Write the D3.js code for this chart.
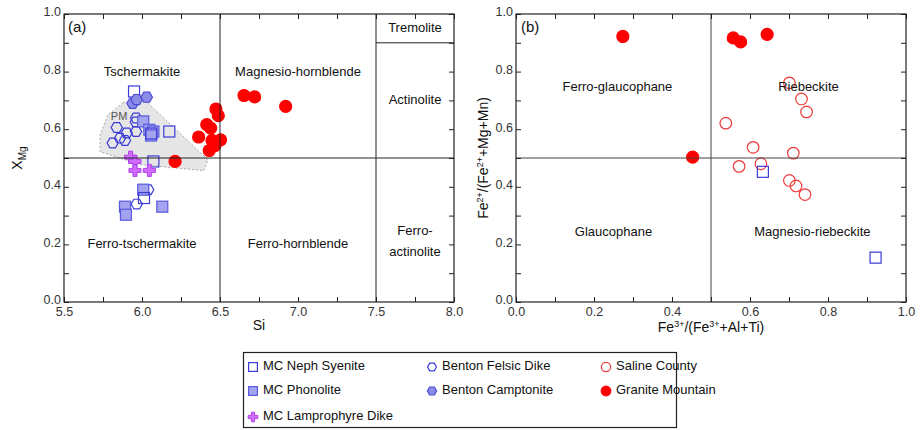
<!DOCTYPE html>
<html>
<head>
<meta charset="utf-8">
<script src="https://cdn.jsdelivr.net/npm/d3@7"></script>
<style>
  body { margin: 0; background: #fff; }
  svg { display: block; font-family: "Liberation Sans", Arial, sans-serif; }
</style>
</head>
<body>
<svg id="chart" width="920" height="430"></svg>
<script>
// ---- Panel (a): Si vs XMg (calcic amphibole classification) ----
const mcNephSyeniteA = [[5.949,0.731],[6.175,0.592],[6.073,0.488],[6.013,0.361],[6.06,0.585]];
const mcPhonoliteA = [[6.008,0.627],[6.047,0.598],[6.073,0.592],[6.058,0.578],[6.008,0.390],[5.891,0.331],[5.897,0.303],[6.130,0.331]];
const mcLamprophyreA = [[5.927,0.503],[5.955,0.488],[5.955,0.457],[6.047,0.457]];
const bentonFelsicA = [[5.962,0.639],[5.838,0.606],[5.902,0.587],[5.962,0.592],[5.859,0.569],[5.891,0.561],[5.812,0.552],[5.96,0.625],[6.04,0.390],[5.966,0.340]];
const bentonCamptoniteA = [[5.94,0.690],[5.966,0.703],[6.03,0.711]];
const graniteMountainA = [[6.654,0.717],[6.722,0.712],[6.921,0.679],[6.474,0.670],[6.489,0.647],[6.415,0.616],[6.440,0.604],[6.363,0.573],[6.449,0.561],[6.504,0.563],[6.468,0.543],[6.431,0.526],[6.212,0.488]];
// outline of the shaded PM field
const pmField = [[5.878,0.692],[6.0,0.710],[6.423,0.494],[6.397,0.456],[5.987,0.477],[5.731,0.522],[5.731,0.581],[5.782,0.650]];

// ---- Panel (b): sodic amphibole classification ----
const mcNephSyeniteB = [[0.633,0.452],[0.922,0.154]];
const salineCountyB = [[0.538,0.621],[0.608,0.537],[0.572,0.471],[0.701,0.761],[0.732,0.705],[0.745,0.660],[0.711,0.517],[0.628,0.480],[0.701,0.422],[0.718,0.403],[0.741,0.373]];
const graniteMountainB = [[0.274,0.922],[0.557,0.917],[0.576,0.903],[0.644,0.929],[0.453,0.503]];

// tick values
const siTicks = [5.5,5.75,6.0,6.25,6.5,6.75,7.0,7.25,7.5,7.75,8.0];
const siLabels = [5.5,6.0,6.5,7.0,7.5,8.0];
const fracTicks = [0,0.1,0.2,0.3,0.4,0.5,0.6,0.7,0.8,0.9,1.0];
const fracLabels = [0,0.2,0.4,0.6,0.8,1.0];

const svg = d3.select("#chart");
svg.append("rect").attr("width",920).attr("height",430).attr("fill","#fff");

const plotTop = 14, plotBottom = 302;
const xa = d3.scaleLinear().domain([5.5,8.0]).range([64,454]);
const ya = d3.scaleLinear().domain([0,1]).range([plotBottom,plotTop]);
const xb = d3.scaleLinear().domain([0,1]).range([516,906]);
const yb = ya;

const styles = {
  neph:   {shape:"square", fill:"none", stroke:"#3b3bd9", size:11},
  phon:   {shape:"square", fill:"#a3a3ef", stroke:"#5a5ade", size:11},
  lamp:   {shape:"plus",   fill:"#cf6cff", stroke:"#b040e8", size:12},
  felsic: {shape:"hex",    fill:"none", stroke:"#3b3bd9", size:5.6},
  campt:  {shape:"hex",    fill:"#8c8ce6", stroke:"#4a4ad6", size:5.8},
  saline: {shape:"circle", fill:"none", stroke:"#ee3a3a", size:5.8},
  granite:{shape:"circle", fill:"#ff0000", stroke:"#ff0000", size:6}
};

function hexPath(r) {
  const pts = d3.range(6).map(i => {
    const a = i*Math.PI/3;
    return [r*Math.cos(a), r*Math.sin(a)];
  });
  return "M" + pts.map(p => p.join(",")).join("L") + "Z";
}
function plusPath(s) {
  const h = s/2, t = s/6;
  return `M${-t},${-h}H${t}V${-t}H${h}V${t}H${t}V${h}H${-t}V${t}H${-h}V${-t}H${-t}Z`;
}
function drawMarker(g, cx, cy, st, scale) {
  const k = scale || 1;
  if (st.shape === "circle") {
    g.append("circle").attr("cx",cx).attr("cy",cy).attr("r",st.size*k)
      .attr("fill",st.fill).attr("stroke",st.stroke).attr("stroke-width",1.2);
  } else if (st.shape === "square") {
    const s = st.size*k;
    g.append("rect").attr("x",cx-s/2).attr("y",cy-s/2).attr("width",s).attr("height",s)
      .attr("fill",st.fill).attr("stroke",st.stroke).attr("stroke-width",1.2);
  } else if (st.shape === "hex") {
    g.append("path").attr("d",hexPath(st.size*k)).attr("transform",`translate(${cx},${cy})`)
      .attr("fill",st.fill).attr("stroke",st.stroke).attr("stroke-width",1.2);
  } else if (st.shape === "plus") {
    g.append("path").attr("d",plusPath(st.size*k)).attr("transform",`translate(${cx},${cy})`)
      .attr("fill",st.fill).attr("stroke",st.stroke).attr("stroke-width",1);
  }
}
function drawSeries(g, data, xs, ys, st) {
  data.forEach(d => drawMarker(g, xs(d[0]), ys(d[1]), st));
}

function frameAndAxes(xs, ys, xTicks, xLabels, xFmt) {
  const g = svg.append("g");
  const near = (v, arr) => arr.some(a => Math.abs(a - v) < 1e-9);
  const ax = d3.axisBottom(xs).tickValues(xTicks).tickSize(-5).tickPadding(5)
    .tickFormat(v => near(v, xLabels) ? xFmt(v) : "");
  const axT = d3.axisTop(xs).tickValues(xTicks).tickSize(-5).tickFormat("");
  const ay = d3.axisLeft(ys).tickValues(fracTicks).tickSize(-5).tickPadding(3)
    .tickFormat(v => near(v, fracLabels) ? d3.format(".1f")(v) : "");
  const ayR = d3.axisRight(ys).tickValues(fracTicks).tickSize(-5).tickFormat("");
  const [x0,x1] = xs.range();
  [[ax, `translate(0,${plotBottom})`, null],[axT, `translate(0,${plotTop})`, null],
   [ay, `translate(${x0},0)`, "0.15em"],[ayR, `translate(${x1},0)`, null]]
    .forEach(([a,t,dy]) => {
      const s = g.append("g").attr("transform",t).call(a);
      s.select(".domain").remove();
      s.selectAll("line").attr("stroke","#222");
      s.selectAll("text").attr("font-size",12.5).attr("fill","#333").attr("font-family","Liberation Sans, Arial, sans-serif");
      if (dy) s.selectAll("text").attr("dy", dy);
    });
  g.append("rect").attr("x",x0).attr("y",plotTop).attr("width",x1-x0).attr("height",plotBottom-plotTop)
    .attr("fill","none").attr("stroke","#222").attr("stroke-width",1.2);
  return g;
}
function label(txt, x, y, opts) {
  const o = opts || {};
  return svg.append("text").attr("x",x).attr("y",y).attr("text-anchor",o.anchor || "middle")
    .attr("dominant-baseline","middle").attr("font-size",o.size || 13).attr("fill",o.fill || "#111").text(txt);
}

// ---------- Panel (a) ----------
const ga = svg.append("g");
ga.append("path")
  .attr("d", d3.line().x(d => xa(d[0])).y(d => ya(d[1])).curve(d3.curveLinearClosed)(pmField))
  .attr("fill","#e6e6e6").attr("stroke","#999").attr("stroke-width",0.8).attr("stroke-dasharray","2,2");
ga.append("text").attr("x",xa(5.8)).attr("y",ya(0.643)).attr("font-size",11).attr("fill","#555")
  .attr("dominant-baseline","middle").text("PM");

const boundaryA = svg.append("g").attr("stroke","#222").attr("stroke-width",1);
boundaryA.append("line").attr("x1",xa(6.5)).attr("x2",xa(6.5)).attr("y1",ya(0)).attr("y2",ya(1));
boundaryA.append("line").attr("x1",xa(7.5)).attr("x2",xa(7.5)).attr("y1",ya(0)).attr("y2",ya(1));
boundaryA.append("line").attr("x1",xa(5.5)).attr("x2",xa(8.0)).attr("y1",ya(0.5)).attr("y2",ya(0.5));
boundaryA.append("line").attr("x1",xa(7.5)).attr("x2",xa(8.0)).attr("y1",ya(0.9)).attr("y2",ya(0.9));

frameAndAxes(xa, ya, siTicks, siLabels, d3.format(".1f"));

drawSeries(ga, bentonFelsicA, xa, ya, styles.felsic);
drawSeries(ga, mcPhonoliteA, xa, ya, styles.phon);
drawSeries(ga, mcNephSyeniteA, xa, ya, styles.neph);
drawSeries(ga, bentonCamptoniteA, xa, ya, styles.campt);
drawSeries(ga, mcLamprophyreA, xa, ya, styles.lamp);
drawSeries(ga, graniteMountainA, xa, ya, styles.granite);

label("(a)", 68, 28, {anchor:"start", size:15});
label("Tschermakite", xa(6.0), ya(0.795));
label("Magnesio-hornblende", xa(7.0), ya(0.795));
label("Tremolite", xa(7.75), ya(0.95));
label("Actinolite", xa(7.75), ya(0.7));
label("Ferro-tschermakite", xa(6.0), ya(0.2));
label("Ferro-hornblende", xa(7.0), ya(0.2));
label("Ferro-", xa(7.75), ya(0.245));
label("actinolite", xa(7.75), ya(0.17));

label("Si", xa(6.75), 326, {size:14});
const yt = svg.append("text").attr("transform",`translate(22,${ya(0.5)}) rotate(-90)`)
  .attr("text-anchor","middle").attr("font-size",14).attr("fill","#111");
yt.append("tspan").text("X");
yt.append("tspan").attr("font-size",10).attr("dy",4).text("Mg");

// ---------- Panel (b) ----------
const gb = svg.append("g");
const boundaryB = svg.append("g").attr("stroke","#444").attr("stroke-width",1);
boundaryB.append("line").attr("x1",xb(0.5)).attr("x2",xb(0.5)).attr("y1",yb(0)).attr("y2",yb(1));
boundaryB.append("line").attr("x1",xb(0)).attr("x2",xb(1)).attr("y1",yb(0.5)).attr("y2",yb(0.5));

frameAndAxes(xb, yb, fracTicks, fracLabels, d3.format(".1f"));

drawSeries(gb, salineCountyB, xb, yb, styles.saline);
drawSeries(gb, mcNephSyeniteB, xb, yb, styles.neph);
drawSeries(gb, graniteMountainB, xb, yb, styles.granite);

label("(b)", 521, 28, {anchor:"start", size:15});
label("Ferro-glaucophane", xb(0.26), yb(0.745));
label("Riebeckite", xb(0.75), yb(0.745));
label("Glaucophane", xb(0.25), yb(0.24));
label("Magnesio-riebeckite", xb(0.76), yb(0.24));

const xtb = svg.append("text").attr("x",xb(0.5)).attr("y",332).attr("text-anchor","middle")
  .attr("font-size",14).attr("fill","#111");
xtb.append("tspan").text("Fe");
xtb.append("tspan").attr("font-size",9).attr("dy",-5).text("3+");
xtb.append("tspan").attr("dy",5).text("/(Fe");
xtb.append("tspan").attr("font-size",9).attr("dy",-5).text("3+");
xtb.append("tspan").attr("dy",5).text("+Al+Ti)");

const ytb = svg.append("text").attr("transform",`translate(488,${yb(0.5)}) rotate(-90)`)
  .attr("text-anchor","middle").attr("font-size",14).attr("fill","#111");
ytb.append("tspan").text("Fe");
ytb.append("tspan").attr("font-size",9).attr("dy",-5).text("2+");
ytb.append("tspan").attr("dy",5).text("/(Fe");
ytb.append("tspan").attr("font-size",9).attr("dy",-5).text("2+");
ytb.append("tspan").attr("dy",5).text("+Mg+Mn)");

// ---------- Legend ----------
const legendItems = [
  {name:"MC Neph Syenite", st:styles.neph, col:0, row:0},
  {name:"MC Phonolite", st:styles.phon, col:0, row:1},
  {name:"MC Lamprophyre Dike", st:styles.lamp, col:0, row:2},
  {name:"Benton Felsic Dike", st:styles.felsic, col:1, row:0},
  {name:"Benton Camptonite", st:styles.campt, col:1, row:1},
  {name:"Saline County", st:styles.saline, col:2, row:0},
  {name:"Granite Mountain", st:styles.granite, col:2, row:1}
];
const lg = svg.append("g");
lg.append("rect").attr("x",243.5).attr("y",352.5).attr("width",433).attr("height",75)
  .attr("fill","#fff").attr("stroke","#222").attr("stroke-width",1.2);
const colX = [253, 432, 606];
const rowY = [367, 391, 417];
legendItems.forEach(it => {
  const cx = colX[it.col], cy = rowY[it.row];
  drawMarker(lg, cx, cy, it.st, 0.8);
  lg.append("text").attr("x",cx+10).attr("y",cy).attr("dominant-baseline","middle")
    .attr("font-size",13).attr("fill","#111").text(it.name);
});
</script>
</body>
</html>
